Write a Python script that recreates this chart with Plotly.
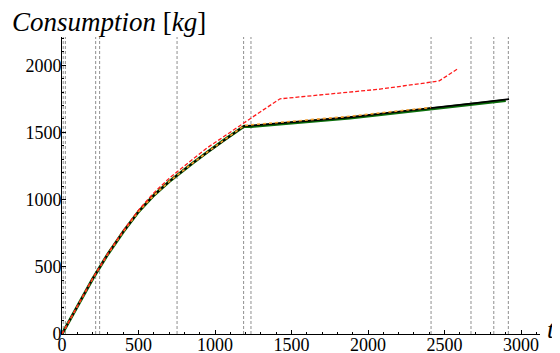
import plotly.graph_objects as go

# ---- data ----
t_black = [0, 100, 200, 300, 401, 500, 600, 700, 754, 850, 950, 1050, 1190,
           1240, 1425, 1700, 1882, 2100, 2412, 2700, 2922]
c_black = [0, 210, 410, 595, 762, 910, 1032, 1134, 1184, 1268, 1353, 1436, 1547,
           1551, 1569, 1595, 1613, 1642, 1680, 1718, 1748]

t_green = [0, 100, 200, 300, 401, 500, 600, 700, 754, 850, 950, 1050, 1190,
           1240, 1425, 1700, 1882, 2100, 2412, 2700, 2900]
c_green = [0, 210, 410, 595, 762, 910, 1032, 1134, 1184, 1268, 1353, 1436, 1545,
           1544, 1563, 1589, 1607, 1636, 1674, 1711, 1738]

t_orange = [0, 100, 200, 300, 401, 500, 600, 700, 754, 850, 950, 1050, 1190,
            1240, 1425, 1700, 1882, 2100, 2412]
c_orange = [0, 210, 410, 595, 762, 910, 1032, 1134, 1184, 1268, 1353, 1436, 1550,
            1557, 1575, 1601, 1620, 1648, 1686]

t_red = [0, 100, 200, 300, 401, 500, 600, 700, 754, 850, 950, 1050, 1174, 1300,
         1425, 1750, 2078, 2412, 2466, 2586]
c_red = [0, 211, 413, 600, 770, 922, 1050, 1158, 1209, 1297, 1386, 1465, 1563, 1656,
         1750, 1785, 1822, 1874, 1884, 1973]

v_lines = [8, 22, 220, 246, 752, 1187, 1235, 2412, 2673, 2822, 2917]

x_ticks = [0, 500, 1000, 1500, 2000, 2500, 3000]
y_ticks = [0, 500, 1000, 1500, 2000]

FONT = "Liberation Serif"

fig = go.Figure()

for xv in v_lines:
    fig.add_shape(type="line", x0=xv, x1=xv, y0=0, y1=1, xref="x", yref="paper",
                  line=dict(color="#8f8f8f", width=1, dash="3px,2px"), layer="below")

fig.add_trace(go.Scatter(x=t_green, y=c_green, mode="lines",
                         line=dict(color="#0b6e0b", width=3)))
fig.add_trace(go.Scatter(x=t_black, y=c_black, mode="lines",
                         line=dict(color="black", width=1.8)))
fig.add_trace(go.Scatter(x=t_orange, y=c_orange, mode="lines",
                         line=dict(color="#f5a030", width=1.6, dash="dot")))
fig.add_trace(go.Scatter(x=t_red, y=c_red, mode="lines",
                         line=dict(color="#ff1a1a", width=1.3, dash="4px,2px")))

axis_common = dict(showgrid=False, zeroline=False, showline=True, linecolor="black",
                   linewidth=1, ticks="inside", ticklen=4, tickcolor="black",
                   automargin=False,
                   minor=dict(dtick=100, ticks="inside", ticklen=2, tickcolor="black"),
                   tickfont=dict(family=FONT, size=18, color="black"))

# the page body adds an 8px offset, so the plot area is placed 8px up/left
fig.update_layout(
    width=552, height=353,
    margin=dict(l=54, r=20, t=29, b=27, autoexpand=False),
    paper_bgcolor="white", plot_bgcolor="white",
    showlegend=False,
    font=dict(family=FONT, size=18, color="black"),
    xaxis=dict(range=[0, 3124], tickvals=x_ticks, ticktext=[str(v) for v in x_ticks],
               ticklabelstandoff=-6, **axis_common),
    yaxis=dict(range=[0, 2210], tickvals=y_ticks, ticktext=[str(v) for v in y_ticks],
               ticklabelstandoff=-4, **axis_common),
)

fig.add_annotation(text="<i>Consumption</i> [<i>kg</i>]", xref="paper", yref="paper",
                   x=-0.109, y=1.05, xanchor="left", yanchor="middle", showarrow=False,
                   font=dict(family=FONT, size=27, color="black"))
fig.add_annotation(text="<i>t</i>", xref="paper", yref="paper",
                   x=1.023, y=0.015, xanchor="center", yanchor="middle", showarrow=False,
                   font=dict(family=FONT, size=26, color="black"))

fig.write_html("out.html")
